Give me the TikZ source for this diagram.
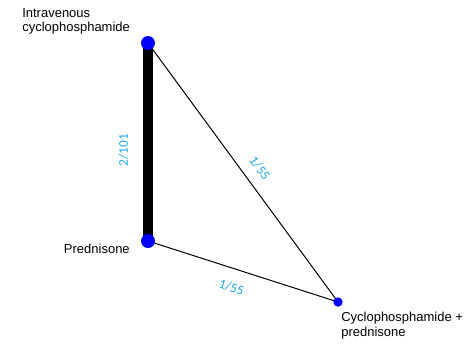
\documentclass[tikz,border=0pt]{standalone}
\usepackage{fontspec}
\setmainfont{Liberation Sans}
\newfontfamily\edgefont{Carlito}
\usepackage{xcolor}
\usetikzlibrary{positioning,backgrounds}
\definecolor{edgeblue}{RGB}{30,170,235}

\begin{document}
\begin{tikzpicture}[
  x=0.75pt, y=-0.75pt,
  trt/.style={circle, fill=blue, inner sep=0pt, minimum size=10.5pt},
  trtsmall/.style={trt, minimum size=7pt},
  lbl/.style={font=\fontsize{9.75}{11}\selectfont, align=left, inner sep=0pt},
  wlab/.style={font=\edgefont\fontsize{10}{12}\selectfont, text=edgeblue, inner sep=0pt, sloped},
  thin/.style={line width=0.75pt}
]
\useasboundingbox (0,0) rectangle (474,344);
% treatments
\node[trt] (ivc) at (148,43) {};
\node[trt] (pred) at (148,241) {};
\node[trtsmall] (cpp) at (338,302) {};
\node[lbl, anchor=north west] (ivclbl) at (22,8) {Intravenous\\cyclophosphamide};
\node[lbl, anchor=base east] (predlbl) at (130,253) {Prednisone};
\node[lbl, anchor=north west] (cpplbl) at (341,312) {Cyclophosphamide +\\prednisone};
% comparisons
\begin{scope}[on background layer]
\draw[line width=7.5pt] (pred.center) -- (ivc.center) node[wlab, pos=0.46, above=11pt] {2/101};
\draw[thin] (ivc.center) -- (cpp.center) node[wlab, pos=0.52, above=8pt] {1/55};
\draw[thin] (pred.center) -- (cpp.center) node[wlab, pos=0.47, below=10pt] {1/55};
\end{scope}
\end{tikzpicture}
\end{document}
